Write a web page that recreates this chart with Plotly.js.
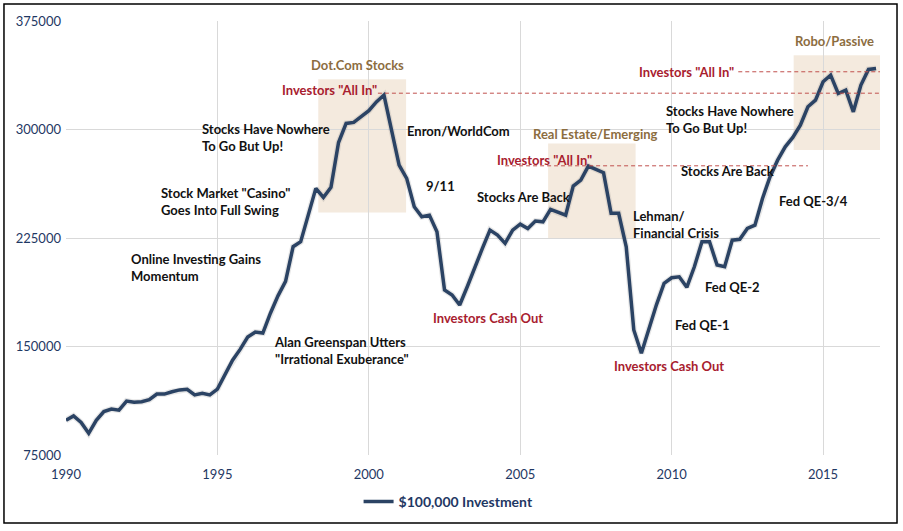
<!DOCTYPE html>
<html>
<head>
<meta charset="utf-8">
<script src="https://cdn.plot.ly/plotly-3.0.1.min.js"></script>
<style>
html,body{margin:0;padding:0;background:#fff;}
#chart{width:903px;height:531px;}
</style>
</head>
<body>
<div id="chart"></div>
<script>
// Quarterly dates 1990Q1 .. 2016Q4
const startYear = 1990;
const values = [
  99000, 102000, 97500, 90000,
  99000, 105000, 106800, 106000,
  112300, 111400, 111800, 113200,
  117100, 117100, 118700, 120000,
  120400, 116500, 117600, 116500,
  120500, 131000, 140500, 148000,
  156500, 160000, 159300, 173000,
  185000, 195000, 219000, 222400,
  240000, 259300, 253000, 260000,
  291000, 304200, 304900, 309000,
  313000, 319100, 323800, 299600,
  275400, 266200, 246600, 239700,
  240800, 229300, 189000, 185600,
  178700, 191300, 205100, 217800,
  230500, 227000, 221300, 230500,
  234600, 231600, 236700, 236200,
  244800, 242500, 240800, 260900,
  265000, 274700, 272400, 270100,
  242100, 242100, 218900, 161400,
  145300, 163000, 179000, 193600,
  197500, 198200, 190900, 205100,
  222400, 222400, 206300, 205100,
  223500, 224100, 231600, 233900,
  252300, 267400, 278800, 288000,
  294500, 303000, 315700, 320300,
  333000, 337600, 324900, 327200,
  312200, 330700, 341500, 342200
];
const dates = values.map((v, i) => startYear + i * 0.25);

const seriesName = "$100,000 Investment";
const yTicks = [75000, 150000, 225000, 300000, 375000];
const xTicks = [1990, 1995, 2000, 2005, 2010, 2015];

// Highlight boxes: [x0, x1, y0, y1]
const boxes = [
  [1998.33, 2001.23, 242700, 334800],
  [2005.92, 2008.81, 224700, 290400],
  [2014.03, 2016.92, 285800, 351400]
];
// Dashed "All In" levels: [x0, x1, y]
const levels = [
  [2000.3, 2016.9, 325100],
  [2004.5, 2014.5, 274900],
  [2012.2, 2016.9, 339900]
];

// Annotation labels: [text, x, y, anchor, kind]
const labels = [
  ["Dot.Com Stocks", 1999.64, 344500, "center", "gold"],
  ["Investors \"All In\"", 2000.33, 327200, "right", "red"],
  ["Stocks Have Nowhere<br>To Go But Up!", 1994.42, 294700, "left", "black"],
  ["Enron/WorldCom", 2001.19, 298900, "left", "black"],
  ["Stock Market \"Casino\"<br>Goes Into Full Swing", 1993.07, 250500, "left", "black"],
  ["9/11", 2002.38, 260900, "center", "black"],
  ["Stocks Are Back", 2003.5, 253300, "left", "black"],
  ["Real Estate/Emerging", 2007.49, 296800, "center", "gold"],
  ["Investors \"All In\"", 2004.16, 278800, "left", "red"],
  ["Online Investing Gains<br>Momentum", 1992.08, 204900, "left", "black"],
  ["Lehman/<br>Financial Crisis", 2008.65, 234600, "left", "black"],
  ["Investors Cash Out", 2003.93, 169700, "center", "red"],
  ["Alan Greenspan Utters<br>\"Irrational Exuberance\"", 1996.8, 146900, "left", "black"],
  ["Investors Cash Out", 2009.9, 136500, "center", "red"],
  ["Fed QE-1", 2010.03, 164800, "left", "black"],
  ["Fed QE-2", 2011.02, 191100, "left", "black"],
  ["Fed QE-3/4", 2013.47, 250500, "left", "black"],
  ["Stocks Are Back", 2010.23, 271200, "left", "black"],
  ["Stocks Have Nowhere<br>To Go But Up!", 2009.74, 307200, "left", "black"],
  ["Investors \"All In\"", 2008.84, 339700, "left", "red"],
  ["Robo/Passive", 2015.38, 361100, "center", "gold"]
];

const colors = {gold: "#8C6D3F", red: "#A8202E", black: "#111111"};
const FONT = "Lato, 'Open Sans', sans-serif";

const shapes = [];
boxes.forEach(b => shapes.push({
  type: "rect", xref: "x", yref: "y", x0: b[0], x1: b[1], y0: b[2], y1: b[3],
  fillcolor: "rgba(236,220,200,0.6)", line: {width: 0}, layer: "below"
}));
levels.forEach(l => shapes.push({
  type: "line", xref: "x", yref: "y", x0: l[0], x1: l[1], y0: l[2], y1: l[2],
  line: {color: "#C0504D", width: 1, dash: "4px,3px"}, layer: "above"
}));
// outer border
shapes.push({
  type: "rect", xref: "paper", yref: "paper",
  x0: -0.0762, x1: 1.0209, y0: -0.1567, y1: 1.039,
  line: {color: "#000", width: 1.5}, fillcolor: "rgba(0,0,0,0)"
});

const annotations = labels.map(l => ({
  text: l[0], x: l[1], y: l[2], xref: "x", yref: "y",
  xanchor: l[3], yanchor: "middle", align: l[3] === "center" ? "center" : "left",
  showarrow: false,
  font: {family: FONT, size: 13, color: colors[l[4]], weight: "bold"}
}));

const traces = [
  {
    x: dates, y: values, type: "scatter", mode: "lines",
    line: {color: "rgba(120,120,120,0.18)", width: 6},
    hoverinfo: "skip", showlegend: false
  },
  {
    x: dates, y: values, type: "scatter", mode: "lines", name: seriesName,
    line: {color: "#2B4364", width: 3.5}
  }
];

const layout = {
  width: 903, height: 531,
  margin: {l: 66, r: 23, t: 21, b: 76, autoexpand: false},
  paper_bgcolor: "#fff", plot_bgcolor: "#fff",
  font: {family: FONT},
  xaxis: {
    range: [1990, 2016.88], tickvals: xTicks, ticktext: xTicks.map(String),
    showgrid: true, gridcolor: "#D9D9D9", gridwidth: 1,
    zeroline: false, showline: false, ticks: "",
    ticklabelstandoff: 10, automargin: false,
    tickfont: {family: FONT, size: 13, color: "#1F3864"}
  },
  yaxis: {
    range: [75000, 375000], tickvals: yTicks, ticktext: yTicks.map(String),
    showgrid: true, gridcolor: "#D9D9D9", gridwidth: 1,
    zeroline: false, showline: false, ticks: "", automargin: false,
    ticklabelstandoff: 4,
    tickfont: {family: FONT, size: 13, color: "#1F3864"}
  },
  showlegend: true,
  legend: {
    orientation: "h", x: 0.47, xanchor: "center",
    yref: "container", y: 0.085, yanchor: "top",
    font: {family: FONT, size: 14, color: "#1F3864", weight: "bold"},
    itemwidth: 30, bgcolor: "rgba(0,0,0,0)"
  },
  shapes: shapes,
  annotations: annotations
};

Plotly.newPlot("chart", traces, layout, {displayModeBar: false, staticPlot: true});
</script>
</body>
</html>
